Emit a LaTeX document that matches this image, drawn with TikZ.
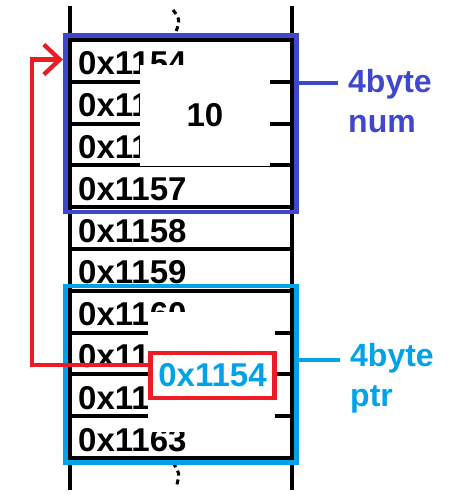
\documentclass[tikz,border=0pt]{standalone}
\usepackage{fontspec}
\setmainfont{Liberation Sans}
\usepackage{xcolor}
\usepackage{tikz}
\usetikzlibrary{arrows.meta, positioning, calc, fit}

\definecolor{numblue}{RGB}{63,72,204}
\definecolor{ptrcyan}{RGB}{0,162,232}
\definecolor{ptrred}{RGB}{237,28,36}

\tikzset{
    cell/.style={draw, line width=4pt, minimum width=222pt, minimum height=41.8pt, outer sep=0pt, inner sep=0pt},
    addr/.style={font=\fontsize{33}{38}\selectfont\bfseries, anchor=base west, inner sep=0pt},
    patch/.style={fill=white, inner sep=0pt, font=\fontsize{33}{38}\selectfont\bfseries},
    frame/.style={draw=#1, line width=4.7pt, inner sep=4.7pt},
    lbl/.style={font=\fontsize{32}{40}\selectfont\bfseries, text=#1, align=left, anchor=north west, inner sep=0pt},
    rail/.style={line width=4pt},
    gapdots/.style={line width=3pt, dash pattern=on 5pt off 4pt}
}

\begin{document}
\begin{tikzpicture}[x=1pt, y=-1pt]
    \useasboundingbox (0,0) rectangle (456,500);

    % stack rails
    \draw[rail] (70,6) -- (70,490);
    \draw[rail] (292,6) -- (292,490);
    \draw[gapdots] (173,10) .. controls (180,19) .. (176,32);
    \draw[gapdots] (173,463) .. controls (180,473) .. (176,488);

    % memory cells
    \foreach \a [count=\i from 0] in {1154,1155,1156,1157,1158,1159,1160,1161,1162,1163} {
        \node[cell] (c\a) at (181, 60.9+41.8*\i) {};
        \node[addr] (t\a) at ($(c\a.south west)+(8,-7)$) {0x\a};
    }

    % value of num
    \node[patch, minimum width=130pt, minimum height=101pt] (numval) at (205,115.5) {10};

    % value of ptr
    \node[patch, minimum width=127pt, minimum height=120pt] (ptrpatch) at (211.5,372) {};
    \node[draw=ptrred, line width=4.3pt, text=ptrcyan, font=\fontsize{33}{38}\selectfont\bfseries,
          minimum width=124pt, minimum height=45pt, inner sep=0pt] (ptrval) at (212.5,375.5) {0x1154};

    % frames
    \node[frame=numblue, fit=(c1154)(c1157)] (numframe) {};
    \node[frame=ptrcyan, fit=(c1160)(c1163)] (ptrframe) {};

    % labels
    \coordinate (numtap) at (338,82.7);
    \coordinate (ptrtap) at (340,360);
    \draw[numblue, line width=4.3pt] (numframe.east |- numtap) -- (numtap);
    \draw[ptrcyan, line width=4.3pt] (ptrframe.east |- ptrtap) -- (ptrtap);
    \node[lbl=numblue] (numlbl) at (348,69) {4byte\\num};
    \node[lbl=ptrcyan] (ptrlbl) at (350,343) {4byte\\ptr};

    % pointer arrow
    \coordinate (bend) at (31.7,59.5);
    \draw[ptrred, line width=4.3pt, -{Straight Barb[length=16pt, width=30pt]}]
        ([yshift=10.5pt]ptrval.west) -| (bend) -- (numframe.west |- bend);
\end{tikzpicture}
\end{document}
